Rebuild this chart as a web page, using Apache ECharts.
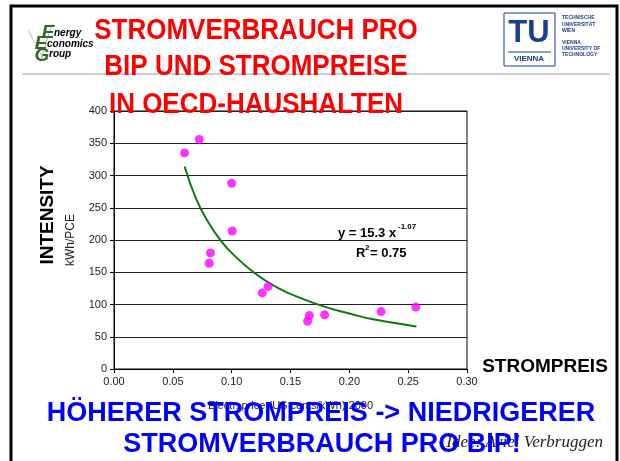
<!DOCTYPE html>
<html>
<head>
<meta charset="utf-8">
<script src="https://cdn.jsdelivr.net/npm/echarts@6/dist/echarts.min.js"></script>
<style>
  html, body { margin: 0; padding: 0; background: #fff; }
  #chart { width: 620px; height: 461px; }
</style>
</head>
<body>
<div id="chart"></div>
<script>
  // electricity price (US $/kWh, 2000) and household intensity (kWh/PCE)
  var priceX = [0.060, 0.0725, 0.100, 0.1005, 0.082, 0.081, 0.126, 0.131, 0.1645, 0.166, 0.179, 0.227, 0.2565]
  var intensityY = [335, 356, 288, 214, 180, 164, 118, 128, 74, 83, 84, 89, 96]
  // power trend line
  var trendX = [0.06, 0.07, 0.08, 0.09, 0.10, 0.12, 0.14, 0.16, 0.18, 0.20, 0.22, 0.24, 0.257]
  var trendY = [314, 263, 228, 201, 180, 148, 125, 109, 96, 86, 77, 71, 66]
  var xTicks = ['0.00', '0.05', '0.10', '0.15', '0.20', '0.25', '0.30']

  var titleLines = ['STROMVERBRAUCH PRO', 'BIP UND STROMPREISE', 'IN OECD-HAUSHALTEN']
  var bottomLines = ['HÖHERER STROMPREIS -> NIEDRIGERER', 'STROMVERBRAUCH PRO BIP!']

  var scatterData = priceX.map(function (x, i) { return [x, intensityY[i]] })
  var trendData = trendX.map(function (x, i) { return [x, trendY[i]] })

  function txt(x, y, text, font, color, extra) {
    var el = {
      type: 'text', x: x, y: y, z: 10,
      style: { text: text, font: font, fill: color, align: 'center', verticalAlign: 'middle' }
    }
    if (extra) {
      for (var k in extra) {
        if (k === 'style') {
          for (var s in extra.style) el.style[s] = extra.style[s]
        } else {
          el[k] = extra[k]
        }
      }
    }
    return el
  }
  var left = { style: { align: 'left' } }

  var chart = echarts.init(document.getElementById('chart'))
  var graphics = [
    // slide frame
    { type: 'rect', z: 1, shape: { x: 11, y: 6, width: 606, height: 470 }, style: { fill: 'none', stroke: '#000', lineWidth: 3 } },
    { type: 'line', z: 1, shape: { x1: 22, y1: 74, x2: 610, y2: 74 }, style: { stroke: '#999', lineWidth: 1 } },
    // EEG logo
    { type: 'line', z: 9, shape: { x1: 28, y1: 30, x2: 44, y2: 60 }, style: { stroke: '#bbb', lineWidth: 1 } },
    { type: 'line', z: 9, shape: { x1: 52, y1: 24, x2: 40, y2: 62 }, style: { stroke: '#bbb', lineWidth: 1 } },
    txt(48, 33, 'E', 'italic bold 19px "Liberation Sans"', '#2d6b2d'),
    txt(41, 44, 'E', 'italic bold 19px "Liberation Sans"', '#2d6b2d'),
    txt(42, 56, 'G', 'italic bold 19px "Liberation Sans"', '#2d6b2d'),
    txt(54, 33, 'nergy', 'italic bold 10px "Liberation Sans"', '#000', left),
    txt(47, 44, 'conomics', 'italic bold 10px "Liberation Sans"', '#000', left),
    txt(49, 54, 'roup', 'italic bold 10px "Liberation Sans"', '#000', left),
    // TU Vienna logo
    { type: 'rect', z: 10, shape: { x: 504, y: 13, width: 51, height: 53 }, style: { fill: 'none', stroke: '#1b3f8f', lineWidth: 1 } },
    txt(529, 33, 'TU', 'bold 31px "Liberation Sans"', '#1b3f8f'),
    { type: 'line', z: 10, shape: { x1: 508, y1: 52, x2: 551, y2: 52 }, style: { stroke: '#1b3f8f', lineWidth: 1 } },
    txt(529, 59, 'VIENNA', 'bold 8px "Liberation Sans"', '#1b3f8f'),
    txt(562, 18, 'TECHNISCHE', 'bold 5px "Liberation Sans"', '#1b3f8f', left),
    txt(562, 25, 'UNIVERSITÄT', 'bold 5px "Liberation Sans"', '#1b3f8f', left),
    txt(562, 31, 'WIEN', 'bold 5px "Liberation Sans"', '#1b3f8f', left),
    txt(562, 43, 'VIENNA', 'bold 5px "Liberation Sans"', '#1b3f8f', left),
    txt(562, 49, 'UNIVERSITY OF', 'bold 5px "Liberation Sans"', '#1b3f8f', left),
    txt(562, 55, 'TECHNOLOGY', 'bold 5px "Liberation Sans"', '#1b3f8f', left),
    // axis titles
    txt(48, 215, 'INTENSITY', 'bold 19px "Liberation Sans"', '#000', { rotation: Math.PI / 2, originX: 0, originY: 0 }),
    txt(545, 367, 'STROMPREIS', 'bold 19px "Liberation Sans"', '#000'),
    // fit equation
    txt(338, 233, 'y = 15.3 x', 'bold 13px "Liberation Sans"', '#000', left),
    txt(398, 227, '-1.07', 'bold 8px "Liberation Sans"', '#000', left),
    txt(356, 253, 'R', 'bold 13px "Liberation Sans"', '#000', left),
    txt(365, 248, '2', 'bold 8px "Liberation Sans"', '#000', left),
    txt(370, 253, '= 0.75', 'bold 13px "Liberation Sans"', '#000', left),
    // credit
    txt(603, 443, 'Idee: Aviel Verbruggen', 'italic 17px "Liberation Serif"', '#222', { style: { align: 'right' } })
  ]
  var titleY = [31, 67, 105]
  titleLines.forEach(function (t, i) {
    graphics.push(txt(256, titleY[i], t, 'bold 26px "Liberation Sans"', '#ff0000', { z: 20, scaleY: 1.12, originX: 0, originY: 0 }))
  })
  var bottomY = [414, 445]
  var bottomX = [321, 322]
  bottomLines.forEach(function (t, i) {
    graphics.push(txt(bottomX[i], bottomY[i], t, 'bold 27px "Liberation Sans"', '#0000ff', { z: 20 }))
  })

  chart.setOption({
    animation: false,
    backgroundColor: '#fff',
    grid: {
      left: 114, right: 153, top: 111, bottom: 92,
      show: true, borderColor: '#000', borderWidth: 1, backgroundColor: 'transparent'
    },
    xAxis: {
      type: 'value', min: 0, max: 0.3, interval: 0.05,
      name: 'Electr. price (US cents/kWh) 2000',
      nameLocation: 'middle', nameGap: 31,
      nameTextStyle: { fontFamily: 'Liberation Sans', fontSize: 11, color: '#222' },
      axisLine: { lineStyle: { color: '#000' } },
      axisTick: { length: 4, lineStyle: { color: '#000' } },
      axisLabel: {
        fontFamily: 'Liberation Sans', fontSize: 11, color: '#222', margin: 7,
        formatter: function (v) { return xTicks[Math.round(v / 0.05)] }
      },
      splitLine: { show: false }
    },
    yAxis: {
      type: 'value', min: 0, max: 400, interval: 50,
      name: 'kWh/PCE',
      nameLocation: 'middle', nameGap: 37,
      nameTextStyle: { fontFamily: 'Liberation Sans', fontSize: 12, color: '#222' },
      axisLine: { show: true, lineStyle: { color: '#000' } },
      axisTick: { show: true, length: 4, lineStyle: { color: '#000' } },
      axisLabel: { fontFamily: 'Liberation Sans', fontSize: 11, color: '#222', margin: 7 },
      splitLine: { lineStyle: { color: '#222', width: 1 } }
    },
    series: [
      {
        name: 'Trend',
        type: 'line',
        data: trendData,
        smooth: true,
        showSymbol: false,
        lineStyle: { color: '#0b7a0b', width: 2 },
        z: 3
      },
      {
        name: 'OECD',
        type: 'scatter',
        data: scatterData,
        symbolSize: 9,
        itemStyle: { color: '#ff00ff' },
        z: 4
      }
    ],
    graphic: graphics
  })
</script>
</body>
</html>
